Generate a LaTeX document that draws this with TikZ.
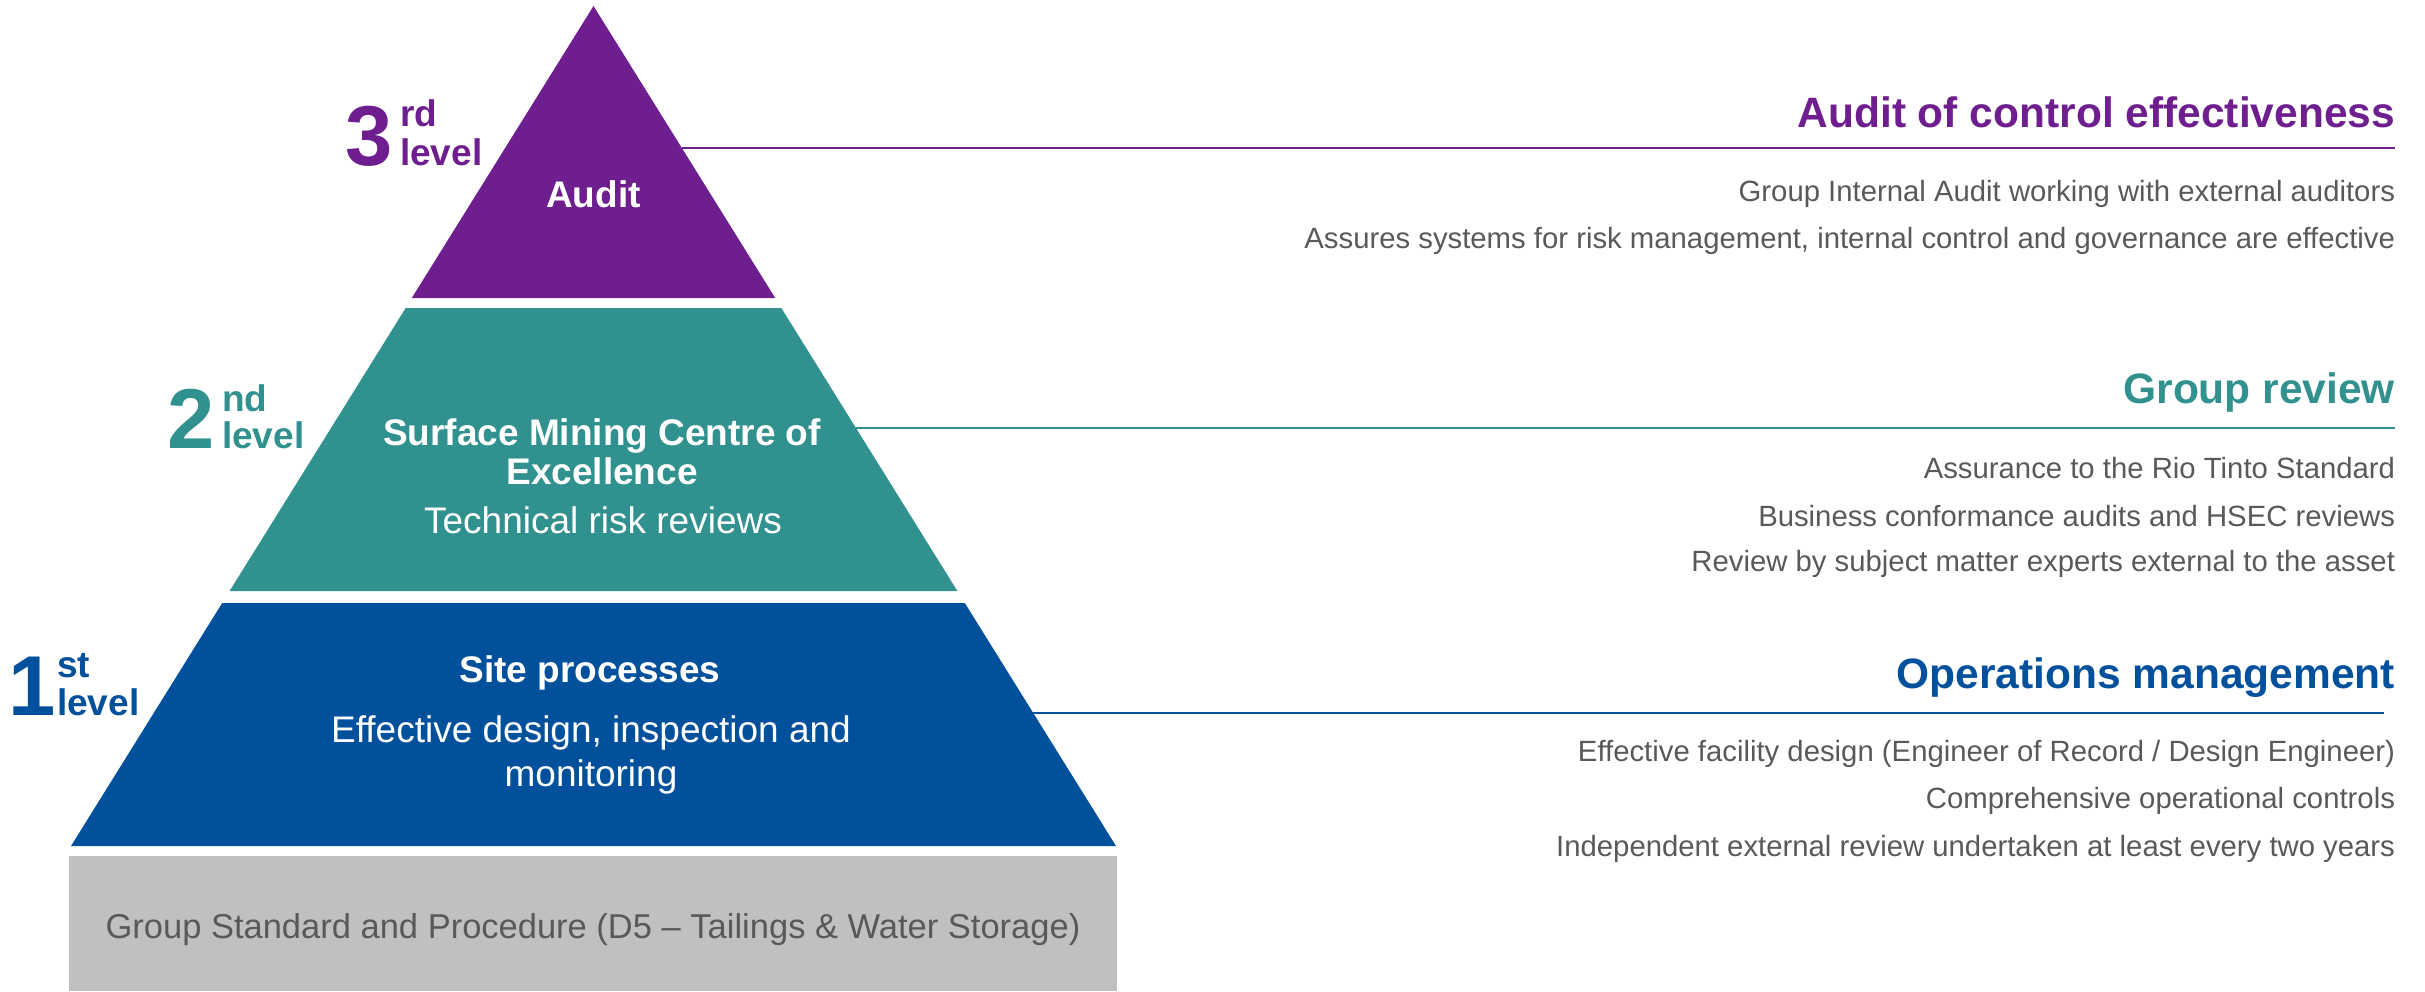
\documentclass[tikz,border=0pt]{standalone}
\usepackage{fontspec}
\setmainfont{Liberation Sans}
\definecolor{rtpurple}{RGB}{110,30,142}
\definecolor{rtteal}{RGB}{49,145,143}
\definecolor{rtblue}{RGB}{0,80,155}
\definecolor{rtgray}{RGB}{192,192,192}
\definecolor{txtgray}{RGB}{89,89,89}
\newcommand\fsz[1]{\fontsize{#1bp}{#1bp}\selectfont}
\begin{document}
\begin{tikzpicture}[x=1bp,y=-1bp,
  txt/.style={inner sep=0pt, outer sep=0pt},
  head/.style={txt, anchor=base east, font=\fsz{42.5}\bfseries},
  body/.style={txt, anchor=base east, font=\fsz{29.3}, text=txtgray},
  pyr/.style={txt, anchor=base, font=\fsz{37}, text=white},
  pyrb/.style={txt, anchor=base, font=\fsz{37}\bfseries, text=white},
  lvlbig/.style={txt, anchor=base west, font=\fsz{85}\bfseries, text height=61bp, text depth=0bp},
  lvlsup/.style={txt, anchor=base west, font=\fsz{37}\bfseries, text height=27bp, text depth=0bp},
  conn/.style={line width=2.2bp}
]
\useasboundingbox (0,0) rectangle (2425,991);
% pyramid bands
\fill[rtpurple] (593.5,6) -- (775.2,298) -- (411.8,298) -- cycle;
\fill[rtteal] (405.7,308) -- (781.3,308) -- (957.4,591) -- (229.6,591) -- cycle;
\fill[rtblue] (222.2,603) -- (964.8,603) -- (1116,846) -- (71,846) -- cycle;
\fill[rtgray] (69,856) rectangle (1117,991);
% connector end points
\coordinate (e3) at (681.8,148);
\coordinate (r3) at (2395,148);
\coordinate (e2) at (856,428);
\coordinate (r2) at (2395,428);
\coordinate (e1) at (1033.3,713);
\coordinate (r1) at (2384,713);
\draw[conn, rtpurple] (e3) -- (r3);
\draw[conn, rtteal] (e2) -- (r2);
\draw[conn, rtblue] (e1) -- (r1);
% right-hand texts
\node[head, text=rtpurple] (h3) at (2395,127.5) {Audit of control effectiveness};
\node[body] (b31) at (2395,201) {Group Internal Audit working with external auditors};
\node[body] (b32) at (2395,248) {Assures systems for risk management, internal control and governance are effective};
\node[head, text=rtteal] (h2) at (2395,403.5) {Group review};
\node[body] (b21) at (2395,478) {Assurance to the Rio Tinto Standard};
\node[body] (b22) at (2395,526) {Business conformance audits and HSEC reviews};
\node[body] (b23) at (2395,571) {Review by subject matter experts external to the asset};
\node[head, text=rtblue] (h1) at (2395,688.5) {Operations management};
\node[body] (b11) at (2395,761) {Effective facility design (Engineer of Record / Design Engineer)};
\node[body] (b12) at (2395,808) {Comprehensive operational controls};
\node[body] (b13) at (2395,856) {Independent external review undertaken at least every two years};
% pyramid texts
\node[pyrb] (t3) at (593.5,207) {Audit};
\node[pyrb] (t2a) at (602,445) {Surface Mining Centre of};
\node[pyrb] (t2b) at (602,484) {Excellence};
\node[pyr] (t2c) at (603,533) {Technical risk reviews};
\node[pyrb] (t1a) at (590,682) {Site processes};
\node[pyr] (t1b) at (591,742) {Effective design, inspection and};
\node[pyr] (t1c) at (591,786) {monitoring};
\node[txt, anchor=base, font=\fsz{34.5}, text=txtgray] (t0) at (593,938) {Group Standard and Procedure (D5 – Tailings \& Water Storage)};
% level labels
\node[lvlbig, text=rtpurple] (n3) at (345,165) {3};
\node[lvlsup, text=rtpurple] (s3) at (400,126) {rd};
\node[lvlsup, text=rtpurple] (v3) at (400,165) {level};
\node[lvlbig, text=rtteal] (n2) at (167,448) {2};
\node[lvlsup, text=rtteal] (s2) at (222,411) {nd};
\node[lvlsup, text=rtteal] (v2) at (222,448) {level};
\node[lvlbig, text=rtblue] (n1) at (8,715) {1};
\node[lvlsup, text=rtblue] (s1) at (57,677) {st};
\node[lvlsup, text=rtblue] (v1) at (57,715) {level};
\end{tikzpicture}
\end{document}
